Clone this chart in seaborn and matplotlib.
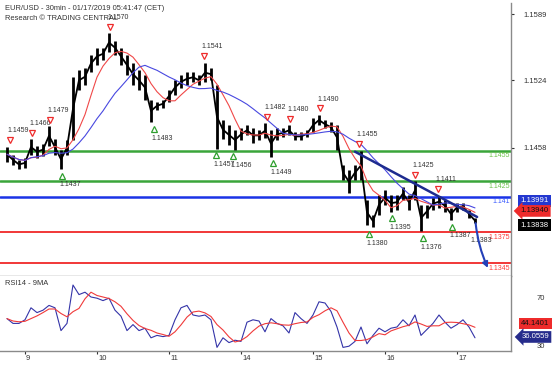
#!/usr/bin/env python3

import matplotlib.pyplot as plt
import matplotlib.transforms as mtransforms
import numpy as np
import pandas as pd
import seaborn as sns

sns.set_style("white")
plt.rcParams['font.family'] = ['Liberation Sans', 'DejaVu Sans']

# 2-hour samples, hours counted in trading time from Jan 9 00:00
hours = list(range(-6, 152, 2))
price_hi = [1.1459, 1.1451, 1.1446, 1.1448, 1.1466, 1.1460, 1.1462, 1.1479, 1.1466, 1.1456,
            1.1465, 1.1527, 1.1534, 1.1536, 1.1549, 1.1556, 1.1556, 1.1570, 1.1563, 1.1556,
            1.1549, 1.1541, 1.1534, 1.1529, 1.1505, 1.1503, 1.1505, 1.1514, 1.1524, 1.1529,
            1.1532, 1.1532, 1.1529, 1.1541, 1.1536, 1.1519, 1.1485, 1.1480, 1.1475, 1.1477,
            1.1480, 1.1477, 1.1475, 1.1482, 1.1475, 1.1477, 1.1477, 1.1480, 1.1473, 1.1473,
            1.1475, 1.1487, 1.1490, 1.1485, 1.1483, 1.1480, 1.1441, 1.1436, 1.1441, 1.1455,
            1.1407, 1.1392, 1.1412, 1.1416, 1.1412, 1.1412, 1.1419, 1.1412, 1.1425, 1.1402,
            1.1402, 1.1409, 1.1411, 1.1407, 1.1399, 1.1404, 1.1404, 1.1397, 1.1389]
price_lo = [1.1444, 1.1441, 1.1437, 1.1438, 1.1451, 1.1448, 1.1450, 1.1460, 1.1451, 1.1437,
            1.1451, 1.1465, 1.1514, 1.1519, 1.1532, 1.1539, 1.1544, 1.1552, 1.1549, 1.1539,
            1.1529, 1.1519, 1.1514, 1.1505, 1.1483, 1.1495, 1.1497, 1.1503, 1.1510, 1.1516,
            1.1519, 1.1522, 1.1519, 1.1522, 1.1524, 1.1457, 1.1466, 1.1461, 1.1456, 1.1465,
            1.1470, 1.1463, 1.1465, 1.1467, 1.1449, 1.1465, 1.1468, 1.1470, 1.1465, 1.1465,
            1.1468, 1.1473, 1.1480, 1.1477, 1.1473, 1.1456, 1.1426, 1.1413, 1.1426, 1.1426,
            1.1382, 1.1380, 1.1392, 1.1402, 1.1395, 1.1397, 1.1407, 1.1397, 1.1407, 1.1376,
            1.1389, 1.1397, 1.1399, 1.1395, 1.1387, 1.1395, 1.1397, 1.1389, 1.13838]
rsi = [52, 48, 48, 51, 61, 57, 59, 63, 61, 42, 48, 80, 72, 74, 70, 69, 67, 69, 59, 54,
       42, 47, 42, 44, 36, 38, 37, 38, 51, 61, 63, 55, 54, 55, 51, 28, 36, 32, 34, 33,
       49, 51, 50, 41, 52, 48, 46, 40, 57, 52, 48, 55, 66, 65, 58, 45, 28, 29, 33, 45,
       31, 38, 44, 41, 44, 45, 51, 46, 55, 38, 43, 48, 55, 49, 44, 47, 51, 45, 36]

# swing highs / lows marked on the chart
high_h = [-5, 2.3, 8.3, 28.3, 59.7, 80.7, 88.3, 98.3, 111.3, 130, 137.7]
high_p = [1.1459, 1.1466, 1.1479, 1.1570, 1.1541, 1.1482, 1.1480, 1.1490, 1.1455, 1.1425, 1.1411]
low_h = [12.3, 43, 63.7, 69.3, 82.7, 114.7, 122.3, 132.7, 142.3]
low_p = [1.1437, 1.1483, 1.1457, 1.1456, 1.1449, 1.1380, 1.1395, 1.1376, 1.1387]

levels = [1.1455, 1.1425, 1.141, 1.1375, 1.1345]
level_labels = ['1.1455', '1.1425', '1.141', '1.1375', '1.1345']
level_colors = ['#3aa53a', '#3aa53a', '#1a33e6', '#f02828', '#f02828']
level_text_colors = ['#6cc24a', '#6cc24a', '#3c5cff', '#ff3b3b', '#ff3b3b']
level_widths = [1.8, 1.8, 1.8, 1.3, 1.3]

day_hours = [0, 24, 48, 72, 96, 120, 144]
day_labels = ['9', '10', '11', '14', '15', '16', '17']

df = pd.DataFrame({'h': hours, 'hi': price_hi, 'lo': price_lo, 'rsi': rsi})
df['mid'] = (df['hi'] + df['lo']) / 2
df['ma_fast'] = df['mid'].rolling(5, min_periods=1).mean()
df['ma_slow'] = df['mid'].rolling(12, min_periods=1).mean()
df['rsi_ma'] = df['rsi'].rolling(4, min_periods=1).mean()

W, H = 554, 366
fig = plt.figure(figsize=(W / 100, H / 100), dpi=100)


def px_box(l, t, r, b):
    return [l / W, 1 - b / H, (r - l) / W, (b - t) / H]


ax = fig.add_axes(px_box(0, 3, 511, 276))
ax2 = fig.add_axes(px_box(0, 276, 511, 351), sharex=ax)
grey = '#8a8a8a'
txt = '#333333'

# ---- price panel
for lv, c, w in zip(levels, level_colors, level_widths):
    ax.axhline(lv, color=c, lw=w, zorder=1)
for lv, lab, c in zip(levels, level_labels, level_text_colors):
    ax.annotate(lab, (161.6, lv), xytext=(0, -3.8), textcoords='offset points',
                ha='right', va='center', fontsize=5, color=c)

ax.vlines(df['h'], df['lo'], df['hi'], color='black', lw=2.0, zorder=3)
sns.lineplot(data=df, x='h', y='mid', ax=ax, color='black', lw=1.3, zorder=3)
sns.lineplot(data=df, x='h', y='ma_fast', ax=ax, color='#f04848', lw=0.8, zorder=4)
sns.lineplot(data=df, x='h', y='ma_slow', ax=ax, color='#4848e0', lw=0.8, zorder=4)

up = mtransforms.offset_copy(ax.transData, fig=fig, x=0, y=4.7, units='points')
down = mtransforms.offset_copy(ax.transData, fig=fig, x=0, y=-4.7, units='points')
for h, p in zip(high_h, high_p):
    ax.plot(h, p, marker='v', ms=5, mfc='white', mec='#ee2b2b', mew=0.9, transform=up, zorder=6)
    ax.annotate(f'{p:.4f}', (h, p), xytext=(-1.8, 11.5), textcoords='offset points',
                ha='left', va='center', fontsize=5, color=txt, zorder=6)
for h, p in zip(low_h, low_p):
    ax.plot(h, p, marker='^', ms=5, mfc='white', mec='#2e9e2e', mew=0.9, transform=down, zorder=6)
    ax.annotate(f'{p:.4f}', (h, p), xytext=(-1.8, -11.5), textcoords='offset points',
                ha='left', va='center', fontsize=5, color=txt, zorder=6)
ax.annotate('1.1383', (148.5, 1.13838), xytext=(0, -12.5), textcoords='offset points',
            ha='left', va='center', fontsize=5, color=txt, zorder=6)

# trend line and projection arrow
ax.plot([110, 150.7], [1.1454, 1.1390], color='#1d2b8f', lw=1.8, zorder=5)
ax.annotate('', xy=(154.3, 1.1340), xytext=(150.2, 1.1384),
            arrowprops=dict(arrowstyle='-|>', color='#2440b8', lw=1.5, mutation_scale=8,
                            connectionstyle='arc3,rad=0.08', shrinkA=0, shrinkB=0), zorder=7)

ax.set_ylim(1.13321, 1.15998)
ax.set_xlim(-8.33, 162)
ax.yaxis.tick_right()
ax.set_yticks([1.1589, 1.1524, 1.1458])
ax.set_yticklabels(['1.1589', '1.1524', '1.1458'])
ax.tick_params(axis='y', right=True, length=2.2, width=0.8, color=txt, pad=6.5,
               labelsize=5.5, labelcolor=txt)
ax.tick_params(axis='x', bottom=False, labelbottom=False)
ax.set_xlabel(None)
ax.set_ylabel(None)
for s in ['top', 'left']:
    ax.spines[s].set_visible(False)
for s in ['right', 'bottom']:
    ax.spines[s].set_color(grey)
    ax.spines[s].set_linewidth(1.0)

# value boxes on the price scale
bl = mtransforms.blended_transform_factory(ax.transAxes, ax.transData)
ax.text(1.018, 1.14057, '1.13991', transform=bl, ha='left', va='center', fontsize=5.6,
        color='white', clip_on=False, zorder=8,
        bbox=dict(boxstyle='square,pad=0.3', fc='#2438d0', ec='none'))
ax.text(1.018, 1.13959, '1.13940', transform=bl, ha='left', va='center', fontsize=5.6,
        color='#111111', clip_on=False, zorder=8,
        bbox=dict(boxstyle='larrow,pad=0.3', fc='#ee2b2b', ec='none'))
ax.text(1.018, 1.13821, '1.13838', transform=bl, ha='left', va='center', fontsize=5.6,
        color='white', clip_on=False, zorder=8,
        bbox=dict(boxstyle='square,pad=0.3', fc='black', ec='none'))

fig.text(5 / W, 1 - 8 / H, 'EUR/USD - 30min - 01/17/2019 05:41:47 (CET)', fontsize=5.4,
         color=txt, va='center', ha='left')
fig.text(5 / W, 1 - 19 / H, 'Research \u00a9 TRADING CENTRAL', fontsize=5.4,
         color=txt, va='center', ha='left')

# ---- RSI panel
sns.lineplot(data=df, x='h', y='rsi', ax=ax2, color='#3434a8', lw=0.8)
sns.lineplot(data=df, x='h', y='rsi_ma', ax=ax2, color='#f03a3a', lw=0.8)
ax2.text(5 / 511, 0.9, 'RSI14 - 9MA', transform=ax2.transAxes, fontsize=5.4, color=txt,
         va='center', ha='left')
ax2.set_ylim(25, 87.5)
ax2.yaxis.tick_right()
ax2.set_yticks([30, 70])
ax2.tick_params(axis='y', right=True, length=0, pad=18.5, labelsize=5.5, labelcolor=txt)
ax2.set_xticks(day_hours)
ax2.set_xticklabels(day_labels)
ax2.tick_params(axis='x', bottom=True, length=2.5, width=0.8, color=txt, pad=0.5,
                labelsize=5.5, labelcolor=txt)
for lbl in ax2.get_xticklabels():
    lbl.set_ha('left')
    lbl.set_transform(lbl.get_transform() + mtransforms.ScaledTranslation(1 / 100, 0, fig.dpi_scale_trans))
ax2.set_xlabel(None)
ax2.set_ylabel(None)
for s in ['top', 'left']:
    ax2.spines[s].set_visible(False)
for s in ['right', 'bottom']:
    ax2.spines[s].set_color(grey)
    ax2.spines[s].set_linewidth(1.0)

b2 = mtransforms.blended_transform_factory(ax2.transAxes, ax2.transData)
ax2.text(1.02, 47.9, '44.1401', transform=b2, ha='left', va='center', fontsize=5.6,
         color='#111111', clip_on=False, zorder=8,
         bbox=dict(boxstyle='square,pad=0.3', fc='#ee2b2b', ec='none'))
ax2.text(1.02, 36.7, '36.0559', transform=b2, ha='left', va='center', fontsize=5.6,
         color='white', clip_on=False, zorder=8,
         bbox=dict(boxstyle='larrow,pad=0.3', fc='#262c8c', ec='none'))

plt.savefig("out.png", dpi=100)
